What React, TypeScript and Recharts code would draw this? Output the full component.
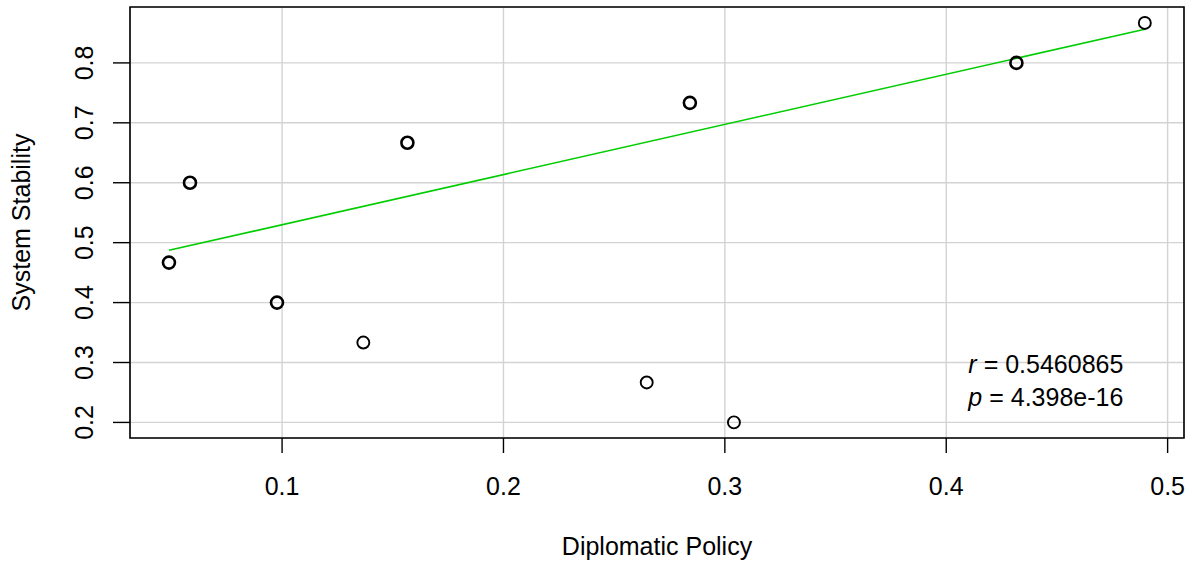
import React from 'react';
import { ScatterChart, Scatter, XAxis, YAxis, CartesianGrid, ReferenceArea } from 'recharts';

const policyX = [0.0489, 0.0584, 0.0977, 0.1367, 0.1566, 0.2647, 0.2842, 0.3041, 0.4317, 0.4897];
const stabilityY = [0.4667, 0.6, 0.4, 0.3333, 0.6667, 0.2667, 0.7333, 0.2, 0.8, 0.8667];
const overlap = [2, 2, 2, 1, 2, 1, 2, 1, 2, 1];
const fitX = [0.0489, 0.4897];
const fitY = [0.4872, 0.8562];
const xTicks = [0.1, 0.2, 0.3, 0.4, 0.5];
const yTicks = [0.2, 0.3, 0.4, 0.5, 0.6, 0.7, 0.8];
const xDomain = [0.0313, 0.5074];
const yDomain = [0.174, 0.8933];
const annotX = [0.41, 0.41];
const annotY = [0.2828, 0.2272];
const annotSym = ['r', 'p'];
const annotVal = ['0.5460865', '4.398e-16'];

const FONT = '"Liberation Sans", Arial, Helvetica, sans-serif';

const points = policyX.map((x, i) => ({ x, y: stabilityY[i], n: overlap[i] }));
const fitLine = fitX.map((x, i) => ({ x, y: fitY[i] }));
const annots = annotX.map((x, i) => ({ x, y: annotY[i], s: annotSym[i], v: annotVal[i] }));

const XTick = (props: any) => {
  const { x, y, payload } = props;
  return (
    <text x={x} y={y + 42} textAnchor="middle" fontSize={25} fill="#000" fontFamily={FONT}>
      {String(payload.value)}
    </text>
  );
};

const YTick = (props: any) => {
  const { x, y, payload } = props;
  const bx = x - 20;
  return (
    <text x={bx} y={y} transform={`rotate(-90, ${bx}, ${y})`} textAnchor="middle" fontSize={25} fill="#000" fontFamily={FONT}>
      {String(payload.value)}
    </text>
  );
};

const PointShape = (props: any) => {
  const { cx, cy, payload } = props;
  return <circle cx={cx} cy={cy} r={6} fill="none" stroke="#000" strokeWidth={payload.n > 1 ? 2.6 : 1.9} />;
};

const AnnotShape = (props: any) => {
  const { cx, cy, payload } = props;
  return (
    <text x={cx} y={cy} fontSize={25} fill="#000" fontFamily={FONT}>
      <tspan fontStyle="italic">{payload.s}</tspan>
      <tspan>{' = ' + payload.v}</tspan>
    </text>
  );
};

const YLabel = (props: any) => {
  const { viewBox } = props;
  const x = viewBox.x + 30;
  const y = viewBox.y + viewBox.height / 2;
  return (
    <text x={x} y={y} transform={`rotate(-90, ${x}, ${y})`} textAnchor="middle" fontSize={25} fill="#000" fontFamily={FONT}>
      System Stability
    </text>
  );
};

const XLabel = (props: any) => {
  const { viewBox } = props;
  const x = viewBox.x + viewBox.width / 2;
  return (
    <text x={x} y={555} textAnchor="middle" fontSize={25} fill="#000" fontFamily={FONT}>
      Diplomatic Policy
    </text>
  );
};

export default function App() {
  return (
    <div style={{ position: 'absolute', left: 0, top: 0, background: '#fff' }}>
      <ScatterChart width={1192} height={566} margin={{ top: 7, right: 8, bottom: 0, left: 0 }}>
        <CartesianGrid stroke="#d3d3d3" strokeWidth={1.4} />
        <XAxis
          type="number"
          dataKey="x"
          domain={xDomain}
          ticks={xTicks}
          allowDataOverflow
          height={128}
          axisLine={false}
          tickSize={15}
          tickMargin={0}
          tickLine={{ stroke: '#000', strokeWidth: 1.4 }}
          tick={<XTick />}
          label={<XLabel />}
        />
        <YAxis
          type="number"
          dataKey="y"
          domain={yDomain}
          ticks={yTicks}
          allowDataOverflow
          width={130}
          axisLine={false}
          tickSize={17}
          tickMargin={0}
          tickLine={{ stroke: '#000', strokeWidth: 1.4 }}
          tick={<YTick />}
          label={<YLabel />}
        />
        <Scatter
          data={fitLine}
          line={{ stroke: '#00cd00', strokeWidth: 1.6 }}
          shape={() => <g />}
          isAnimationActive={false}
        />
        <Scatter data={points} shape={<PointShape />} isAnimationActive={false} />
        <Scatter data={annots} shape={<AnnotShape />} isAnimationActive={false} />
        <ReferenceArea
          x1={xDomain[0]}
          x2={xDomain[1]}
          y1={yDomain[0]}
          y2={yDomain[1]}
          fill="none"
          fillOpacity={0}
          stroke="#000"
          strokeWidth={1.6}
        />
      </ScatterChart>
    </div>
  );
}
